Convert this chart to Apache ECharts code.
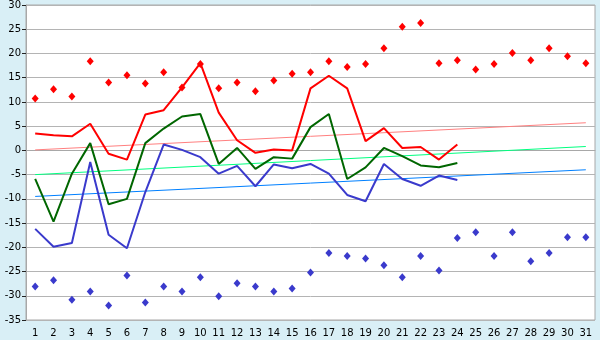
<!DOCTYPE html>
<html>
<head>
<meta charset="utf-8">
<script src="https://cdn.jsdelivr.net/npm/echarts@6/dist/echarts.min.js"></script>
<style>
  html, body { margin: 0; padding: 0; background: #d9eff6; }
  #chart { width: 600px; height: 340px; }
</style>
</head>
<body>
<div id="chart"></div>
<script>
// Days of the month
const days = ['1','2','3','4','5','6','7','8','9','10','11','12','13','14','15','16','17','18','19','20','21','22','23','24','25','26','27','28','29','30','31'];

// Daily maximum, mean and minimum temperature (°C), days 1–24
const tMax = [3.5, 3.1, 2.9, 5.5, -0.7, -1.9, 7.4, 8.3, 13.0, 18.0, 7.8, 2.1, -0.5, 0.2, 0.0, 12.8, 15.4, 12.8, 1.9, 4.6, 0.5, 0.7, -1.9, 1.2];
const tMean = [-5.9, -14.7, -4.8, 1.5, -11.1, -10.0, 1.5, 4.5, 7.0, 7.5, -2.8, 0.5, -3.8, -1.4, -1.7, 4.8, 7.5, -5.9, -3.5, 0.5, -1.2, -3.1, -3.5, -2.6];
const tMin = [-16.2, -19.9, -19.1, -2.4, -17.4, -20.2, -8.6, 1.2, 0.1, -1.4, -4.8, -3.2, -7.4, -2.9, -3.7, -2.8, -4.8, -9.2, -10.5, -2.8, -5.9, -7.3, -5.2, -6.1];

// Record highs and lows for each day
const recHigh = [10.7, 12.6, 11.1, 18.4, 14.0, 15.5, 13.8, 16.1, 13.0, 17.8, 12.8, 14.0, 12.2, 14.4, 15.8, 16.1, 18.4, 17.2, 17.8, 21.1, 25.5, 26.3, 18.0, 18.6, 16.7, 17.8, 20.1, 18.6, 21.1, 19.4, 18.0];
const recLow = [-28.1, -26.8, -30.8, -29.1, -32.0, -25.8, -31.4, -28.1, -29.1, -26.2, -30.1, -27.4, -28.1, -29.1, -28.5, -25.2, -21.2, -21.8, -22.3, -23.7, -26.2, -21.8, -24.8, -18.1, -16.9, -21.8, -16.9, -22.9, -21.2, -17.9, -17.9];

// Normal (long-term trend) values at the first and last day of the month
const normMax = [0.1, 5.7];
const normMean = [-5.0, 0.8];
const normMin = [-9.5, -4.0];

// Tick labels of the value axis
const yMin = -35, yMax = 30, yStep = 5;

function endpoints(pair) {
  const arr = days.map(() => null);
  arr[0] = pair[0];
  arr[days.length - 1] = pair[1];
  return arr;
}

const chart = echarts.init(document.getElementById('chart'), null, { renderer: 'canvas' });

const lineSeries = (data, color, width, z) => ({
  type: 'line', data, symbol: 'none', connectNulls: true, z,
  lineStyle: { color, width }, itemStyle: { color }
});

const markerSeries = (data, color) => ({
  type: 'scatter', data, symbol: 'diamond', symbolSize: [7, 8], z: 4,
  itemStyle: { color, opacity: 1 }
});

chart.setOption({
  animation: false,
  backgroundColor: '#d9eff6',
  grid: {
    left: 26, right: 5, top: 5, bottom: 20,
    show: true, backgroundColor: '#ffffff', borderColor: '#a8a8a8', borderWidth: 1
  },
  xAxis: {
    type: 'category', data: days, boundaryGap: true,
    axisLine: { lineStyle: { color: '#a8a8a8', width: 1 } },
    axisTick: { alignWithLabel: true, length: 5, lineStyle: { color: '#222' } },
    axisLabel: { color: '#000', fontFamily: 'DejaVu Sans', fontSize: 10, margin: 8 },
    splitLine: { show: false }
  },
  yAxis: {
    type: 'value', min: yMin, max: yMax, interval: yStep,
    axisLine: { show: true, lineStyle: { color: '#a8a8a8', width: 1 } },
    axisTick: { show: true, length: 4, lineStyle: { color: '#222' } },
    axisLabel: { color: '#000', fontFamily: 'DejaVu Sans', fontSize: 10, margin: 5 },
    splitLine: { show: true, lineStyle: { color: '#b4b4b4', width: 1 } }
  },
  series: [
    lineSeries(endpoints(normMax), '#ff8080', 1, 1),
    lineSeries(endpoints(normMean), '#00ff80', 1, 1),
    lineSeries(endpoints(normMin), '#0080ff', 1, 1),
    lineSeries(tMax, '#ff0000', 2, 3),
    lineSeries(tMean, '#006600', 2, 3),
    lineSeries(tMin, '#3a3acc', 2, 3),
    markerSeries(recHigh, '#ff0000'),
    markerSeries(recLow, '#3a3acc')
  ]
});
</script>
</body>
</html>
